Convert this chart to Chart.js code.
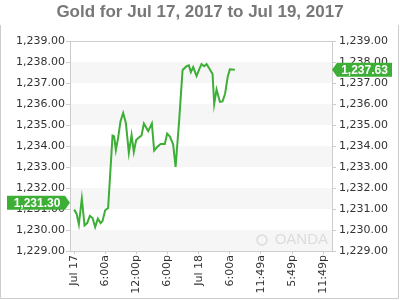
<!DOCTYPE html>
<html>
<head>
<meta charset="utf-8">
<script src="https://cdn.jsdelivr.net/npm/chart.js@4"></script>
<style>
  html, body { margin: 0; padding: 0; background: #fff; }
  #wrap { width: 400px; height: 300px; }
</style>
</head>
<body>
<div id="wrap"><canvas id="goldChart" width="400" height="300"></canvas></div>
<script>
// Dados do gráfico (horas desde Jul 17 00:00 e preço)
const hours = [0, 0.46, 0.91, 1.48, 2.0, 2.51, 3.03, 3.55, 4.05, 4.57, 5.09, 5.47, 5.98, 6.55,
  7.4, 7.71, 8.04, 8.48, 8.94, 9.45, 9.97, 10.54, 11.07, 11.5, 11.95, 12.47, 12.99, 13.44,
  14.27, 14.98, 15.42, 16.0, 16.66, 17.48, 17.93, 18.45, 19.08, 19.55, 20.24, 20.9, 21.67,
  22.11, 22.5, 22.94, 23.6, 24.1, 24.56, 25.06, 25.52, 26.02, 26.68, 26.99, 27.45, 28.1,
  28.6, 29.1, 29.6, 30.01, 30.98];
const prices = [1230.97, 1230.78, 1230.27, 1231.5, 1230.22, 1230.33, 1230.67, 1230.57, 1230.14,
  1230.54, 1230.33, 1230.43, 1230.94, 1231.05, 1234.5, 1234.46, 1233.8, 1234.4, 1235.18,
  1235.57, 1235.1, 1233.67, 1234.52, 1233.72, 1234.28, 1234.4, 1234.5, 1235.07, 1234.71,
  1235.07, 1233.78, 1233.95, 1234.1, 1234.1, 1234.59, 1234.45, 1234.08, 1233.0, 1235.22,
  1237.62, 1237.8, 1237.84, 1237.52, 1237.76, 1237.33, 1237.65, 1237.9, 1237.8, 1237.9,
  1237.7, 1237.43, 1236.0, 1236.69, 1236.1, 1236.12, 1236.5, 1237.3, 1237.65, 1237.63];

// Eixo X: posições dos ticks (horas) e rótulos
const xTickHours = [0, 6, 12, 18, 24, 30, 36, 42, 48];
const xTickLabels = ['Jul 17', '6:00a', '12:00p', '6:00p', 'Jul 18', '6:00a', '11:49a', '5:49p', '11:49p'];

// Eixo Y
const yMin = 1229;
const yMax = 1239;
const openPrice = 1231.30;
const lastPrice = prices[prices.length - 1];

const green = '#3dae36';
const fmt = v => v.toLocaleString('en-US', { minimumFractionDigits: 2, maximumFractionDigits: 2 });

// Faixas alternadas, moldura, marca d'água e rótulos verdes
const decorPlugin = {
  id: 'decor',
  beforeDatasetsDraw(chart) {
    const { ctx, chartArea } = chart;
    const y = chart.scales.y;
    ctx.save();
    ctx.fillStyle = '#f6f6f6';
    for (let v = yMin; v < yMax; v += 2) {
      const top = y.getPixelForValue(v + 1);
      const bot = y.getPixelForValue(v);
      ctx.fillRect(chartArea.left, top, chartArea.right - chartArea.left, bot - top);
    }
    // marca d'água
    ctx.fillStyle = '#dcdcdc';
    ctx.font = '15px "Liberation Sans", Arial, sans-serif';
    ctx.textAlign = 'right';
    ctx.textBaseline = 'middle';
    ctx.fillText('OANDA', chartArea.right - 4, chartArea.bottom - 11);
    ctx.beginPath();
    ctx.arc(chartArea.right - 70, chartArea.bottom - 11, 5, 0, Math.PI * 2);
    ctx.strokeStyle = '#dcdcdc';
    ctx.lineWidth = 1.5;
    ctx.stroke();
    ctx.restore();
  },
  afterDraw(chart) {
    const { ctx, chartArea } = chart;
    const y = chart.scales.y;
    ctx.save();
    // moldura da área do gráfico
    ctx.strokeStyle = '#cccccc';
    ctx.lineWidth = 1;
    ctx.strokeRect(Math.round(chartArea.left) + 0.5, Math.round(chartArea.top) + 0.5,
      Math.round(chartArea.right - chartArea.left), Math.round(chartArea.bottom - chartArea.top));
    // borda externa
    ctx.beginPath();
    ctx.moveTo(0.5, 25);
    ctx.lineTo(0.5, 298.5);
    ctx.lineTo(398.5, 298.5);
    ctx.lineTo(398.5, 25);
    ctx.stroke();

    ctx.font = 'bold 12px "Liberation Sans", Arial, sans-serif';
    ctx.textBaseline = 'middle';
    ctx.textAlign = 'center';
    ctx.fillStyle = green;

    // rótulo esquerdo (abertura)
    let cy = y.getPixelForValue(openPrice);
    ctx.beginPath();
    ctx.moveTo(7, cy - 7);
    ctx.lineTo(65, cy - 7);
    ctx.lineTo(70, cy);
    ctx.lineTo(65, cy + 7);
    ctx.lineTo(7, cy + 7);
    ctx.closePath();
    ctx.fill();
    ctx.fillStyle = '#fff';
    ctx.fillText(fmt(openPrice), 37, cy + 0.5);

    // rótulo direito (último)
    cy = y.getPixelForValue(lastPrice);
    const r = chartArea.right;
    ctx.fillStyle = green;
    ctx.beginPath();
    ctx.moveTo(r, cy);
    ctx.lineTo(r + 5, cy - 7);
    ctx.lineTo(392, cy - 7);
    ctx.lineTo(392, cy + 7);
    ctx.lineTo(r + 5, cy + 7);
    ctx.closePath();
    ctx.fill();
    ctx.fillStyle = '#fff';
    ctx.fillText(fmt(lastPrice), (r + 5 + 392) / 2, cy + 0.5);
    ctx.restore();
  }
};

const tickFont = { family: '"DejaVu Sans", Verdana, sans-serif', size: 11 };

const ctx = document.getElementById('goldChart').getContext('2d');
new Chart(ctx, {
  type: 'line',
  data: {
    datasets: [{
      label: 'Gold',
      data: hours.map((h, i) => ({ x: h, y: prices[i] })),
      borderColor: green,
      borderWidth: 2,
      pointRadius: 0,
      tension: 0,
      fill: false
    }]
  },
  options: {
    responsive: false,
    animation: false,
    layout: { padding: 0 },
    plugins: {
      legend: { display: false },
      tooltip: { enabled: false },
      title: {
        display: true,
        text: 'Gold for Jul 17, 2017 to Jul 19, 2017',
        color: '#777777',
        font: { family: '"Liberation Sans", Arial, sans-serif', size: 17, weight: 'bold', lineHeight: 1.2 },
        padding: { top: 2, bottom: 18.6 }
      }
    },
    scales: {
      x: {
        type: 'linear',
        min: -0.8,
        max: 49.7,
        afterBuildTicks: scale => { scale.ticks = xTickHours.map(v => ({ value: v })); },
        afterFit: scale => { scale.height = 49; },
        ticks: {
          autoSkip: false,
          maxRotation: 90,
          minRotation: 90,
          padding: 1,
          color: '#333',
          font: tickFont,
          callback: (v) => xTickLabels[xTickHours.indexOf(v)]
        },
        grid: { display: true, drawOnChartArea: false, tickLength: 3, color: '#cccccc' },
        border: { color: '#cccccc' }
      },
      y: {
        position: 'left',
        min: yMin,
        max: yMax,
        afterFit: scale => { scale.width = 70; },
        ticks: { stepSize: 1, padding: 1, color: '#333', font: tickFont, callback: v => fmt(v) },
        grid: { drawOnChartArea: false, tickLength: 4, color: '#cccccc' },
        border: { color: '#cccccc' }
      },
      y2: {
        position: 'right',
        min: yMin,
        max: yMax,
        afterFit: scale => { scale.width = 68; },
        ticks: { stepSize: 1, padding: 3, color: '#333', font: tickFont, callback: v => fmt(v) },
        grid: { drawOnChartArea: false, tickLength: 4, color: '#cccccc' },
        border: { color: '#cccccc' }
      }
    }
  },
  plugins: [decorPlugin]
});
</script>
</body>
</html>
